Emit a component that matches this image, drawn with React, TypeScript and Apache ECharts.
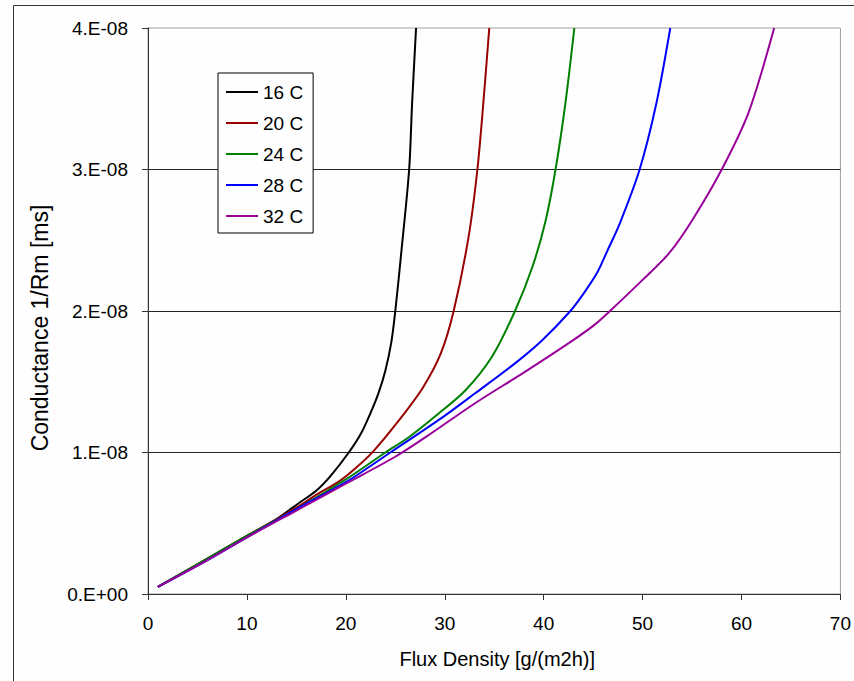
import React, { useEffect, useRef } from "react";
import * as echarts from "echarts";

// Flux density [g/(m2h)] and conductance (in units of 1e-8)
const X16 = [1, 5, 10, 13, 15.2, 17, 18.4, 20.3, 21.5, 22.5, 23.3, 24.0, 24.6, 25.0, 25.6, 26.4, 26.7, 27.1];
const Y16 = [0.05, 0.21, 0.41, 0.53, 0.64, 0.73, 0.83, 1.0, 1.13, 1.28, 1.42, 1.58, 1.78, 2.0, 2.41, 3.0, 3.47, 4.0];

const X20 = [1, 5, 10, 15, 17, 19.4, 21, 22.8, 25.4, 27.8, 29.6, 30.9, 32.4, 33.3, 33.9, 34.5];
const Y20 = [0.05, 0.21, 0.41, 0.61, 0.7, 0.8, 0.89, 1.01, 1.23, 1.46, 1.7, 2.0, 2.52, 3.0, 3.47, 4.0];

const X24 = [1, 5, 10, 15, 20, 24.0, 26.4, 29.1, 32.1, 34.8, 37.1, 38.9, 40.2, 41.2, 42.2, 43.1];
const Y24 = [0.05, 0.21, 0.41, 0.6, 0.81, 1.0, 1.11, 1.26, 1.44, 1.68, 2.0, 2.32, 2.64, 3.0, 3.47, 4.0];

const X28 = [1, 5, 10, 15, 20, 24.5, 29.8, 33.1, 37.1, 39.8, 42.7, 44.1, 45.4, 46.4, 47.7, 49.7, 51.4, 52.8];
const Y28 = [0.05, 0.2, 0.4, 0.6, 0.79, 1.0, 1.25, 1.42, 1.63, 1.79, 2.0, 2.13, 2.27, 2.42, 2.62, 3.0, 3.47, 4.0];

const X32 = [1, 5, 10, 15, 20, 25, 28.1, 33.1, 38.1, 43.1, 45.1, 46.7, 50.0, 52.7, 55.0, 58.0, 60.7, 63.3];
const Y32 = [0.05, 0.2, 0.4, 0.59, 0.78, 0.97, 1.11, 1.35, 1.57, 1.8, 1.9, 2.0, 2.22, 2.41, 2.64, 3.0, 3.4, 4.0];

const SERIES_NAMES = ["16 C", "20 C", "24 C", "28 C", "32 C"];
const SERIES_X = [X16, X20, X24, X28, X32];
const SERIES_Y = [Y16, Y20, Y24, Y28, Y32];
const COLORS = ["#000000", "#990000", "#008000", "#0000ff", "#990099"];
const UNIT = 1e-8;

const FONT = "'Liberation Sans', Arial, sans-serif";
// legend icon: a 2px horizontal bar centred in a 32x20 box
const LINE_ICON = "path://M0,0L0.01,0L0,0.01Z M0,9L32,9L32,11L0,11Z M32,20L31.99,20L32,19.99Z";

export default function App() {
  const ref = useRef<HTMLDivElement>(null);

  useEffect(() => {
    document.body.style.margin = "0";
    const chart = echarts.init(ref.current!, null, { renderer: "svg" });
    const series = SERIES_NAMES.map((name, i) => ({
      name,
      type: "line",
      showSymbol: false,
      symbol: "none",
      smooth: 0.3,
      lineStyle: { color: COLORS[i], width: 2 },
      itemStyle: { color: COLORS[i] },
      data: SERIES_X[i].map((x, j) => [x, SERIES_Y[i][j] * UNIT]),
    }));
    chart.setOption({
      animation: false,
      backgroundColor: "#fdfefd",
      textStyle: { fontFamily: FONT },
      grid: {
        left: 148,
        right: 4,
        top: 28,
        bottom: 87,
        show: true,
        borderColor: "#a0a0a0",
        borderWidth: 1,
        backgroundColor: "transparent",
      },
      legend: {
        orient: "vertical",
        left: 218,
        top: 73,
        padding: [9, 10, 7, 8],
        itemGap: 11,
        itemWidth: 32,
        itemHeight: 20,
        icon: LINE_ICON,
        borderColor: "#000",
        borderWidth: 1,
        backgroundColor: "#fdfefd",
        textStyle: { fontFamily: FONT, fontSize: 19, color: "#000", lineHeight: 20 },
        data: SERIES_NAMES,
      },
      xAxis: {
        type: "value",
        min: 0,
        max: 70,
        interval: 10,
        name: "Flux Density [g/(m2h)]",
        nameLocation: "middle",
        nameGap: 55,
        nameTextStyle: { fontFamily: FONT, fontSize: 20, color: "#000", padding: [0, 0, 0, 6] },
        axisLine: { show: true, onZero: false, lineStyle: { color: "#333", width: 1 } },
        axisTick: { show: true, inside: false, length: 6, lineStyle: { color: "#333" } },
        axisLabel: { fontFamily: FONT, fontSize: 19, color: "#000", margin: 20 },
        splitLine: { show: false },
      },
      yAxis: {
        type: "value",
        min: 0,
        max: 4 * UNIT,
        interval: UNIT,
        axisLine: { show: true, lineStyle: { color: "#333", width: 1 } },
        axisTick: { show: true, inside: false, length: 6, lineStyle: { color: "#333" } },
        axisLabel: {
          fontFamily: FONT,
          fontSize: 19,
          color: "#000",
          margin: 20,
          formatter: (v: number) => {
            const n = Math.round(v / UNIT);
            return n === 0 ? "0.E+00" : `${n}.E-08`;
          },
        },
        splitLine: { show: true, showMinLine: false, showMaxLine: false, lineStyle: { color: "#222", width: 1 } },
      },
      graphic: [
        {
          type: "rect",
          shape: { x: 13.5, y: 5.5, width: 900, height: 700 },
          style: { fill: "none", stroke: "#333", lineWidth: 1 },
          silent: true,
          z: -1,
        },
        {
          type: "text",
          x: 40,
          y: 328,
          rotation: Math.PI / 2,
          style: {
            text: "Conductance 1/Rm [ms]",
            fontFamily: FONT,
            fontSize: 23,
            fill: "#000",
            align: "center",
            verticalAlign: "middle",
          },
        },
      ],
      series,
    });
    return () => chart.dispose();
  }, []);

  return <div ref={ref} style={{ width: 854, height: 681 }} />;
}
